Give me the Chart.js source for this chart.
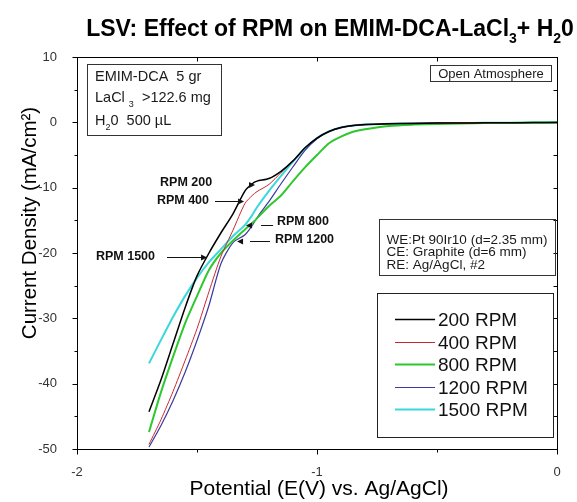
<!DOCTYPE html>
<html>
<head>
<meta charset="utf-8">
<script src="https://cdn.jsdelivr.net/npm/chart.js@4.4.1/dist/chart.umd.min.js"></script>
<style>
html,body{margin:0;padding:0;background:#fff;}
#wrap{width:577px;height:502px;}
</style>
</head>
<body>
<div id="wrap"><canvas id="c" width="577" height="502"></canvas></div>
<script>
// ---------- DATA ----------
const potential = [-1.70, -1.65, -1.60, -1.55, -1.50, -1.45, -1.40, -1.35, -1.30, -1.27, -1.25, -1.20, -1.15, -1.10, -1.05, -1.00, -0.95, -0.90, -0.85, -0.80, -0.70, -0.60, -0.50, -0.40, -0.30, -0.20, -0.10, 0.00];
const rpm200  = [-44.3, -39.4, -33.9, -28.4, -23.5, -20.0, -16.9, -14.0, -10.5, -9.4, -9.0, -8.6, -7.5, -5.9, -3.9, -2.4, -1.4, -0.8, -0.5, -0.35, -0.22, -0.16, -0.12, -0.10, -0.08, -0.06, -0.04, -0.02];
const rpm400  = [-49.3, -45.5, -41.2, -36.5, -31.6, -25.9, -20.5, -16.5, -12.4, -11.2, -10.6, -9.5, -7.7, -5.9, -3.9, -2.4, -1.4, -0.8, -0.5, -0.35, -0.22, -0.16, -0.12, -0.10, -0.08, -0.06, -0.04, -0.02];
const rpm800  = [-47.4, -41.3, -35.9, -30.8, -26.6, -22.6, -20.0, -18.1, -16.4, -15.4, -14.7, -12.8, -11.2, -9.0, -6.9, -5.0, -3.2, -2.2, -1.45, -1.05, -0.55, -0.35, -0.24, -0.17, -0.12, -0.09, -0.06, -0.04];
const rpm1200 = [-49.7, -46.4, -42.6, -38.3, -33.4, -28.0, -21.6, -18.4, -17.2, -15.8, -14.6, -12.1, -9.4, -6.8, -4.3, -2.5, -1.4, -0.8, -0.5, -0.35, -0.22, -0.16, -0.12, -0.10, -0.08, -0.06, -0.04, -0.02];
const rpm1500 = [-36.9, -33.3, -29.8, -26.6, -23.8, -21.4, -19.4, -17.4, -15.7, -14.2, -13.0, -10.5, -8.2, -6.0, -4.0, -2.4, -1.4, -0.8, -0.5, -0.35, -0.22, -0.16, -0.12, -0.10, -0.08, -0.06, -0.04, -0.02];

const seriesLabels = ['200 RPM', '400 RPM', '800 RPM', '1200 RPM', '1500 RPM'];
const seriesValues = [rpm200, rpm400, rpm800, rpm1200, rpm1500];
const seriesColors = ['#000000', '#c8282d', '#2ec82e', '#3a3aa0', '#3ad8dc'];
const seriesWidths = [1.5, 1, 2, 1.2, 2];

const xTickValues = [-2, -1, 0];
const xTickLabels = ['-2', '-1', '0'];
const yTickValues = [10, 0, -10, -20, -30, -40, -50];
const yTickLabels = ['10', '0', '-10', '-20', '-30', '-40', '-50'];

// annotation labels (placed in data coordinates below)
const annotLabels = ['RPM 200', 'RPM 400', 'RPM 800', 'RPM 1200', 'RPM 1500'];

const FONT = '"Liberation Sans", Arial, Helvetica, sans-serif';

// ---------- helpers ----------
function richText(ctx, parts, x, y, align) {
  let total = 0;
  parts.forEach(p => { ctx.font = (p.bold ? 'bold ' : '') + p.size + 'px ' + FONT; p.w = ctx.measureText(p.t).width; total += p.w; });
  let cx = align === 'center' ? x - total / 2 : (align === 'right' ? x - total : x);
  ctx.textAlign = 'left';
  ctx.textBaseline = 'alphabetic';
  parts.forEach(p => { ctx.font = (p.bold ? 'bold ' : '') + p.size + 'px ' + FONT; ctx.fillText(p.t, cx, y + (p.dy || 0)); cx += p.w; });
}
function arrowHead(ctx, x, y, dir, len, half) {
  ctx.beginPath();
  ctx.moveTo(x, y);
  ctx.lineTo(x - dir * len, y - half);
  ctx.lineTo(x - dir * len, y + half);
  ctx.closePath();
  ctx.fill();
}

const decor = {
  id: 'decor',
  afterDraw(chart) {
    const ctx = chart.ctx;
    const ca = chart.chartArea;
    const xs = chart.scales.x, ys = chart.scales.y;
    const X = v => xs.getPixelForValue(v);
    const Y = v => ys.getPixelForValue(v);
    ctx.save();

    // frame
    ctx.strokeStyle = '#000';
    ctx.lineWidth = 1;
    const L = Math.round(ca.left) + 0.5, R = Math.round(ca.right) + 0.5, T = Math.round(ca.top) + 0.5, B = Math.round(ca.bottom) + 0.5;
    ctx.strokeRect(L, T, R - L, B - T);
    ctx.beginPath();
    for (let v = -50; v <= 10; v += 5) {
      const py = Math.round(Y(v)) + 0.5;
      const major = v % 10 === 0;
      ctx.moveTo(L, py); ctx.lineTo(L - (major ? 5 : 3), py);
      if (v > -50 && v < 10) { ctx.moveTo(R, py); ctx.lineTo(R - 4, py); }
    }
    for (let k = 0; k <= 4; k++) {
      const v = -2 + k * 0.5;
      const px = Math.round(X(v)) + 0.5;
      const major = k % 2 === 0;
      ctx.moveTo(px, B); ctx.lineTo(px, B + (major ? 5 : 3));
      if (k > 0 && k < 4) { ctx.moveTo(px, T); ctx.lineTo(px, T + 4); }
    }
    ctx.stroke();

    // title
    ctx.fillStyle = '#000';
    richText(ctx, [
      {t: 'LSV: Effect of RPM on EMIM-DCA-LaCl', size: 23, bold: true},
      {t: '3', size: 14, bold: true, dy: 7},
      {t: '+ H', size: 23, bold: true},
      {t: '2', size: 14, bold: true, dy: 7},
      {t: '0', size: 23, bold: true}
    ], 330, 36, 'center');

    // axis titles
    ctx.fillStyle = '#000';
    ctx.font = '21px ' + FONT;
    ctx.textAlign = 'center';
    ctx.textBaseline = 'middle';
    ctx.fillText('Potential (E(V) vs. Ag/AgCl)', (ca.left + ca.right) / 2 + 2, 489);
    ctx.font = '20.5px ' + FONT;
    ctx.save();
    ctx.translate(30, 223);
    ctx.rotate(-Math.PI / 2);
    ctx.fillText('Current Density (mA/cm\u00B2)', 0, 0);
    ctx.restore();

    // top-left info box
    ctx.strokeStyle = '#333';
    ctx.lineWidth = 1;
    let x1 = Math.round(X(-1.96)) + 0.5, x2 = Math.round(X(-1.40)) + 0.5;
    let y1 = Math.round(Y(8.93)) + 0.5, y2 = Math.round(Y(-1.94)) + 0.5;
    ctx.strokeRect(x1, y1, x2 - x1, y2 - y1);
    ctx.fillStyle = '#1a1a1a';
    const tx = X(-1.925);
    richText(ctx, [{t: 'EMIM-DCA  5 gr', size: 14.5}], tx, Y(7.09) + 5, 'left');
    richText(ctx, [{t: 'LaCl ', size: 14.5}, {t: '3', size: 9, dy: 5}, {t: '  >122.6 mg', size: 14.5}], tx, Y(3.92) + 5, 'left');
    richText(ctx, [{t: 'H', size: 14.5}, {t: '2', size: 9, dy: 5}, {t: '0  500 \u00B5L', size: 14.5}], tx, Y(0.36) + 5, 'left');

    // Open Atmosphere box
    x1 = Math.round(X(-0.529)) + 0.5; x2 = Math.round(X(-0.025)) + 0.5;
    y1 = Math.round(Y(8.78)) + 0.5; y2 = Math.round(Y(6.33)) + 0.5;
    ctx.strokeRect(x1, y1, x2 - x1, y2 - y1);
    ctx.font = '13px ' + FONT;
    ctx.textAlign = 'center'; ctx.textBaseline = 'middle';
    ctx.fillText('Open Atmosphere', (x1 + x2) / 2, (y1 + y2) / 2 + 1);

    // WE / CE / RE box
    x1 = Math.round(X(-0.742)) + 0.5; x2 = Math.round(X(-0.008)) + 0.5;
    y1 = Math.round(Y(-14.74)) + 0.5; y2 = Math.round(Y(-23.31)) + 0.5;
    ctx.strokeRect(x1, y1, x2 - x1, y2 - y1);
    ctx.font = '13.5px ' + FONT;
    ctx.textAlign = 'left'; ctx.textBaseline = 'middle';
    const wx = X(-0.71);
    ctx.fillText('WE:Pt 90Ir10 (d=2.35 mm)', wx, Y(-18.0));
    ctx.fillText('CE: Graphite (d=6 mm)', wx, Y(-19.96));
    ctx.fillText('RE: Ag/AgCl, #2', wx, Y(-21.84));

    // legend box
    x1 = Math.round(X(-0.75)) + 0.5; x2 = Math.round(X(-0.017)) + 0.5;
    y1 = Math.round(Y(-26.12)) + 0.5; y2 = Math.round(Y(-48.16)) + 0.5;
    ctx.strokeStyle = '#222';
    ctx.strokeRect(x1, y1, x2 - x1, y2 - y1);
    const rowsJ = [-30.1, -33.55, -36.99, -40.44, -43.88];
    chart.data.datasets.forEach((ds, i) => {
      const ry = Math.round(Y(rowsJ[i])) + 0.5;
      ctx.strokeStyle = ds.borderColor;
      ctx.lineWidth = ds.borderWidth;
      ctx.beginPath();
      ctx.moveTo(X(-0.675), ry); ctx.lineTo(X(-0.508), ry);
      ctx.stroke();
      ctx.fillStyle = '#111';
      ctx.font = '19px ' + FONT;
      ctx.textAlign = 'left'; ctx.textBaseline = 'middle';
      ctx.fillText(ds.label, X(-0.496), ry + 1);
    });

    // annotations
    ctx.fillStyle = '#111';
    ctx.strokeStyle = '#111';
    ctx.lineWidth = 1;
    ctx.font = 'bold 12.5px ' + FONT;
    ctx.textBaseline = 'middle';
    ctx.textAlign = 'left';
    ctx.fillText(annotLabels[0], X(-1.654), Y(-9.28));
    arrowHead(ctx, X(-1.258), Y(-9.59), 1, 6, 3);
    ctx.textAlign = 'right';
    ctx.fillText(annotLabels[1], X(-1.45), Y(-12.04));
    let ly = Math.round(Y(-12.04)) + 0.5;
    ctx.beginPath(); ctx.moveTo(X(-1.425), ly); ctx.lineTo(X(-1.325), ly); ctx.stroke();
    arrowHead(ctx, X(-1.304), ly, 1, 6, 3);
    ctx.textAlign = 'left';
    ctx.fillText(annotLabels[2], X(-1.167), Y(-15.21));
    ly = Math.round(Y(-15.72)) + 0.5;
    ctx.beginPath(); ctx.moveTo(X(-1.183), ly); ctx.lineTo(X(-1.233), ly); ctx.stroke();
    arrowHead(ctx, X(-1.296), ly, -1, 6, 3);
    ctx.fillText(annotLabels[3], X(-1.175), Y(-18.01));
    ly = Math.round(Y(-18.16)) + 0.5;
    ctx.beginPath(); ctx.moveTo(X(-1.196), ly); ctx.lineTo(X(-1.279), ly); ctx.stroke();
    arrowHead(ctx, X(-1.333), ly, -1, 6, 3);
    ctx.fillText(annotLabels[4], X(-1.921), Y(-20.61));
    ly = Math.round(Y(-20.61)) + 0.5;
    ctx.beginPath(); ctx.moveTo(X(-1.625), ly); ctx.lineTo(X(-1.48), ly); ctx.stroke();
    arrowHead(ctx, X(-1.458), ly, 1, 6, 3);

    ctx.restore();
  }
};

const datasets = seriesLabels.map((lab, i) => ({
  label: lab,
  data: potential.map((x, k) => ({x: x, y: seriesValues[i][k]})),
  borderColor: seriesColors[i],
  backgroundColor: seriesColors[i],
  borderWidth: seriesWidths[i],
  pointRadius: 0,
  fill: false,
  tension: 0.25
}));

new Chart(document.getElementById('c'), {
  type: 'line',
  data: { datasets: datasets },
  options: {
    responsive: false,
    animation: false,
    devicePixelRatio: 1,
    layout: { padding: { top: 57, right: 20, left: 0, bottom: 0 } },
    plugins: { legend: { display: false }, title: { display: false }, tooltip: { enabled: false } },
    scales: {
      x: {
        type: 'linear', min: -2, max: 0,
        afterBuildTicks: s => { s.ticks = xTickValues.map(v => ({value: v})); },
        ticks: {
          callback: v => xTickLabels[xTickValues.indexOf(v)],
          font: { family: FONT, size: 13 }, color: '#333', padding: 8, maxRotation: 0, autoSkip: false
        },
        grid: { display: false },
        border: { display: false },
        afterFit: s => { s.height = 53; }
      },
      y: {
        type: 'linear', min: -50, max: 10,
        afterBuildTicks: s => { s.ticks = yTickValues.map(v => ({value: v})); },
        ticks: {
          callback: v => yTickLabels[yTickValues.indexOf(v)],
          font: { family: FONT, size: 13 }, color: '#333', padding: 12, autoSkip: false
        },
        grid: { display: false },
        border: { display: false },
        afterFit: s => { s.width = 77; }
      }
    }
  },
  plugins: [decor]
});
</script>
</body>
</html>
